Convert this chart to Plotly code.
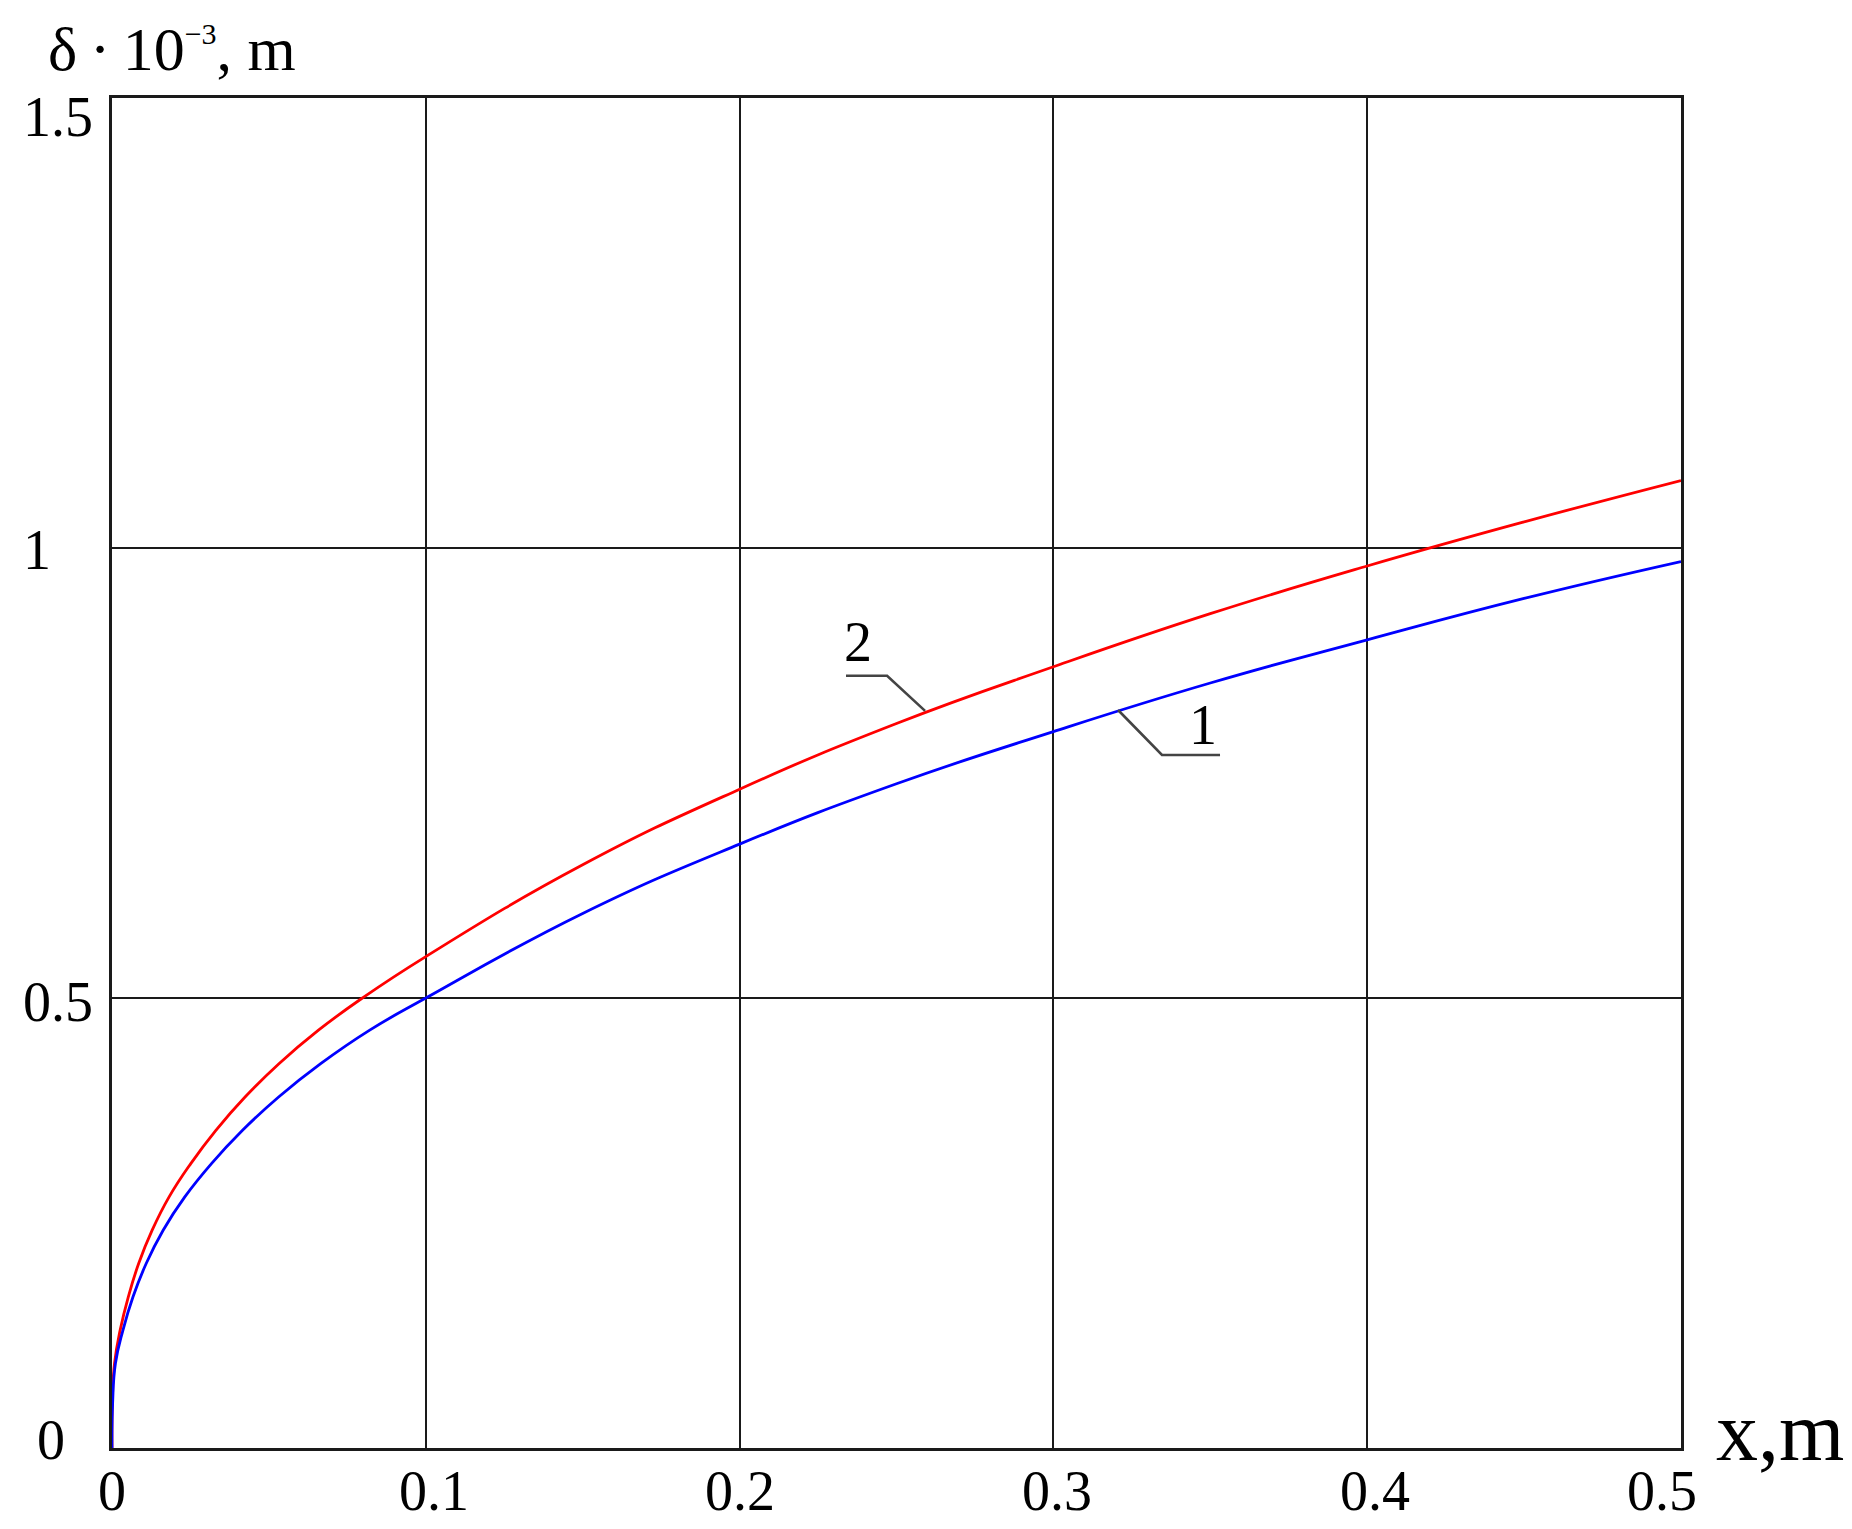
import plotly.graph_objects as go

# ---- data ----
x_curve1 = [0, 0.0002, 0.0011, 0.0035, 0.0067, 0.0109, 0.0163, 0.0232, 0.0317, 0.0416,
            0.0531, 0.0665, 0.0820, 0.1, 0.15, 0.2, 0.25, 0.3, 0.35, 0.4, 0.45, 0.5]
y_curve1 = [0, 0.050, 0.094, 0.131, 0.168, 0.205, 0.242, 0.279, 0.316, 0.353,
            0.390, 0.427, 0.464, 0.500, 0.594, 0.671, 0.738, 0.796, 0.850, 0.898, 0.944, 0.985]

x_curve2 = [0, 0.0001, 0.0008, 0.0026, 0.0052, 0.0085, 0.0128, 0.0182, 0.0251, 0.0331,
            0.0424, 0.0532, 0.0657, 0.0798, 0.1, 0.15, 0.2, 0.25, 0.3, 0.35, 0.4, 0.45, 0.5]
y_curve2 = [0, 0.050, 0.094, 0.131, 0.168, 0.205, 0.242, 0.279, 0.316, 0.353,
            0.390, 0.427, 0.464, 0.500, 0.546, 0.648, 0.732, 0.805, 0.868, 0.927, 0.980, 1.029, 1.075]

# curve labels and their leader lines (data coords)
label1_text = "1"
label1_pos = (0.3477, 0.803)
leader1_x = [0.3206, 0.3346, 0.3531]
leader1_y = [0.820, 0.770, 0.770]

label2_text = "2"
label2_pos = (0.2377, 0.896)
leader2_x = [0.2339, 0.2470, 0.2591]
leader2_y = [0.858, 0.858, 0.819]

x_ticks = [0, 0.1, 0.2, 0.3, 0.4, 0.5]
x_tick_labels = ["0", "0.1", "0.2", "0.3", "0.4", "0.5"]
y_ticks = [0, 0.5, 1, 1.5]
y_tick_labels = ["0", "0.5", "1", "1.5"]

x_range = [0, 0.5]
y_range = [0, 1.5]

FONT = "Liberation Serif, Times New Roman, serif"
TICK_SIZE = 56

fig = go.Figure()

fig.add_trace(go.Scatter(x=x_curve2, y=y_curve2, mode="lines",
                         line=dict(color="#ff0000", width=2.8, shape="spline", smoothing=1.3),
                         showlegend=False, hoverinfo="skip"))
fig.add_trace(go.Scatter(x=x_curve1, y=y_curve1, mode="lines",
                         line=dict(color="#0000ff", width=2.8, shape="spline", smoothing=1.3),
                         showlegend=False, hoverinfo="skip"))

for lx, ly in [(leader1_x, leader1_y), (leader2_x, leader2_y)]:
    fig.add_trace(go.Scatter(x=lx, y=ly, mode="lines",
                             line=dict(color="#444444", width=2.6),
                             showlegend=False, hoverinfo="skip"))

for txt, pos in [(label1_text, label1_pos), (label2_text, label2_pos)]:
    fig.add_annotation(x=pos[0], y=pos[1], xref="x", yref="y", text=txt, showarrow=False,
                       font=dict(family=FONT, size=56, color="black"),
                       xanchor="center", yanchor="middle")

# y tick labels (left aligned, as in the reference)
y_label_shift = {"0": (14, 8), "0.5": (0, -4), "1": (0, -2), "1.5": (0, -19)}
for v, t in zip(y_ticks, y_tick_labels):
    dx, dy = y_label_shift[t]
    fig.add_annotation(x=-0.058, y=v, xref="paper", yref="y", text=t, showarrow=False,
                       font=dict(family=FONT, size=TICK_SIZE, color="black"),
                       xanchor="left", yanchor="middle", xshift=dx, yshift=dy)

# x tick labels
x_label_shift = {"0": 0, "0.1": 8, "0.2": 0, "0.3": 4, "0.4": 8, "0.5": -19}
for v, t in zip(x_ticks, x_tick_labels):
    fig.add_annotation(x=v, y=0, xref="x", yref="paper", text=t, showarrow=False,
                       font=dict(family=FONT, size=TICK_SIZE, color="black"),
                       xanchor="center", yanchor="middle",
                       xshift=x_label_shift[t], yshift=-43)

# axis titles
fig.add_annotation(x=-0.042, y=1.036, xref="paper", yref="paper",
                   text="δ\u2009·\u200910<sup><span style='font-size:30px'>−3</span></sup>, m",
                   showarrow=False,
                   font=dict(family=FONT, size=62, color="black"),
                   xanchor="left", yanchor="middle")
fig.add_annotation(x=1.021, y=0.012, xref="paper", yref="paper",
                   text="x,m", showarrow=False,
                   font=dict(family=FONT, size=84, color="black"),
                   xanchor="left", yanchor="middle")

fig.update_xaxes(range=x_range, tickvals=x_ticks, showticklabels=False,
                 showgrid=True, gridcolor="#1a1a1a", gridwidth=2.4,
                 showline=True, linecolor="#1a1a1a", linewidth=3, mirror=True,
                 ticks="", zeroline=False)
fig.update_yaxes(range=y_range, tickvals=y_ticks, showticklabels=False,
                 showgrid=True, gridcolor="#1a1a1a", gridwidth=2.4,
                 showline=True, linecolor="#1a1a1a", linewidth=3, mirror=True,
                 ticks="", zeroline=False)

# the page body adds an 8px margin; size the figure so the plot area lands where the reference has it
fig.update_layout(width=1844, height=1521,
                  margin=dict(l=104, r=171, t=90, b=81),
                  paper_bgcolor="white", plot_bgcolor="white")

fig.write_html("out.html")
